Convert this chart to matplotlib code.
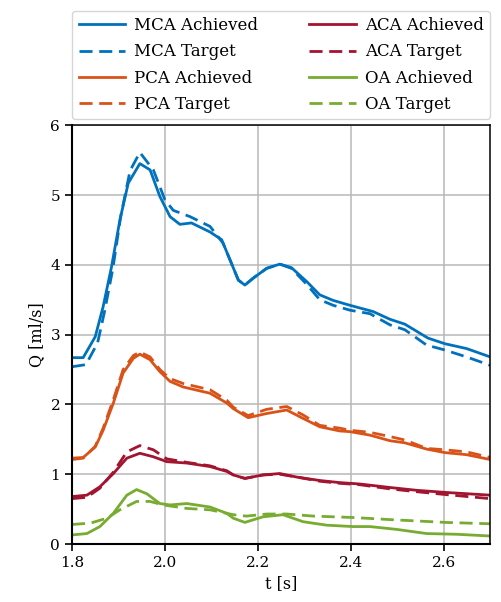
import matplotlib
matplotlib.use("Agg")
import matplotlib.pyplot as plt

plt.rcParams['font.family'] = ['DejaVu Serif']
plt.rcParams['font.size'] = 11

# values (t in s, Q in ml/s)
mca_t = [1.800, 1.824, 1.850, 1.867, 1.885, 1.903, 1.921, 1.946, 1.968, 1.989, 2.011, 2.032,
         2.057, 2.097, 2.122, 2.140, 2.158, 2.172, 2.190, 2.219, 2.247, 2.272, 2.305, 2.333,
         2.362, 2.398, 2.448, 2.484, 2.516, 2.566, 2.602, 2.649, 2.700]
mca_ach = [2.67, 2.67, 2.97, 3.40, 3.97, 4.64, 5.17, 5.45, 5.36, 4.98, 4.69, 4.58,
           4.60, 4.47, 4.36, 4.07, 3.78, 3.71, 3.81, 3.95, 4.01, 3.96, 3.76, 3.57,
           3.49, 3.42, 3.33, 3.22, 3.15, 2.95, 2.87, 2.80, 2.68]

mcat_t = [1.800, 1.830, 1.855, 1.870, 1.888, 1.905, 1.925, 1.946, 1.975, 2.000, 2.018, 2.054,
          2.097, 2.125, 2.140, 2.158, 2.172, 2.190, 2.219, 2.247, 2.272, 2.305, 2.333,
          2.362, 2.398, 2.441, 2.484, 2.516, 2.563, 2.602, 2.649, 2.700]
mca_tgt = [2.54, 2.57, 2.88, 3.33, 3.95, 4.70, 5.35, 5.61, 5.36, 4.93, 4.78, 4.69,
           4.55, 4.31, 4.07, 3.78, 3.71, 3.81, 3.95, 4.01, 3.95, 3.72, 3.50,
           3.42, 3.35, 3.30, 3.14, 3.07, 2.85, 2.78, 2.68, 2.56]

pca_t = [1.800, 1.824, 1.850, 1.867, 1.889, 1.910, 1.932, 1.946, 1.968, 1.989, 2.011, 2.039,
         2.097, 2.133, 2.147, 2.179, 2.219, 2.262, 2.297, 2.333, 2.376, 2.398, 2.441,
         2.484, 2.516, 2.563, 2.602, 2.649, 2.700]
pca_ach = [1.23, 1.24, 1.39, 1.63, 2.02, 2.45, 2.66, 2.72, 2.64, 2.47, 2.33, 2.25,
           2.16, 2.02, 1.94, 1.81, 1.87, 1.92, 1.80, 1.68, 1.62, 1.61, 1.56,
           1.48, 1.45, 1.36, 1.31, 1.28, 1.21]
pca_tgt = [1.21, 1.23, 1.40, 1.66, 2.07, 2.50, 2.70, 2.75, 2.68, 2.50, 2.37, 2.30,
           2.21, 2.06, 1.96, 1.84, 1.93, 1.97, 1.85, 1.70, 1.66, 1.63, 1.60,
           1.54, 1.49, 1.37, 1.35, 1.32, 1.24]

aca_t = [1.800, 1.832, 1.860, 1.889, 1.918, 1.946, 1.975, 2.004, 2.047, 2.097, 2.133, 2.147,
         2.172, 2.211, 2.247, 2.283, 2.333, 2.376, 2.419, 2.484, 2.541, 2.602, 2.700]
aca_ach = [0.68, 0.70, 0.82, 1.01, 1.23, 1.30, 1.25, 1.18, 1.16, 1.11, 1.04, 0.99,
           0.94, 0.99, 1.01, 0.96, 0.91, 0.88, 0.86, 0.81, 0.77, 0.74, 0.70]
aca_tgt = [0.65, 0.67, 0.80, 1.03, 1.32, 1.41, 1.35, 1.22, 1.17, 1.12, 1.05, 0.99,
           0.94, 0.99, 1.00, 0.96, 0.90, 0.87, 0.85, 0.79, 0.75, 0.71, 0.65]

oa_t = [1.800, 1.832, 1.860, 1.889, 1.918, 1.939, 1.961, 1.989, 2.011, 2.047, 2.097, 2.133,
        2.147, 2.172, 2.211, 2.254, 2.297, 2.348, 2.405, 2.441, 2.498, 2.563, 2.627, 2.700]
oa_ach = [0.13, 0.15, 0.25, 0.44, 0.70, 0.78, 0.72, 0.58, 0.56, 0.58, 0.53, 0.44,
          0.37, 0.31, 0.39, 0.42, 0.32, 0.27, 0.25, 0.25, 0.21, 0.15, 0.14, 0.115]

oat_t = [1.800, 1.840, 1.875, 1.903, 1.939, 1.968, 1.996, 2.047, 2.097, 2.133, 2.147, 2.175,
         2.219, 2.262, 2.319, 2.405, 2.484, 2.602, 2.700]
oa_tgt = [0.28, 0.30, 0.37, 0.49, 0.61, 0.61, 0.56, 0.51, 0.49, 0.44, 0.42, 0.40,
          0.43, 0.43, 0.40, 0.38, 0.35, 0.31, 0.29]

blue = '#0072BD'
orange = '#D95319'
red = '#A2142F'
green = '#77AC30'

fig = plt.figure(figsize=(5.01, 6.02), dpi=100)
ax = fig.add_axes([0.1437, 0.0963, 0.835, 0.6957])

lw = 2.0
dsh = (4.7, 2.4)
ax.plot(mca_t, mca_ach, color=blue, lw=lw, label='MCA Achieved')
ax.plot(mcat_t, mca_tgt, color=blue, lw=lw, dashes=dsh, label='MCA Target')
ax.plot(pca_t, pca_ach, color=orange, lw=lw, label='PCA Achieved')
ax.plot(pca_t, pca_tgt, color=orange, lw=lw, dashes=dsh, label='PCA Target')
ax.plot(aca_t, aca_ach, color=red, lw=lw, label='ACA Achieved')
ax.plot(aca_t, aca_tgt, color=red, lw=lw, dashes=dsh, label='ACA Target')
ax.plot(oa_t, oa_ach, color=green, lw=lw, label='OA Achieved')
ax.plot(oat_t, oa_tgt, color=green, lw=lw, dashes=dsh, label='OA Target')

ax.set_xlim(1.8, 2.7)
ax.set_ylim(0, 6)
ax.set_xticks([1.8, 2.0, 2.2, 2.4, 2.6])
ax.set_yticks([0, 1, 2, 3, 4, 5, 6])
ax.grid(True, color='#b8b8b8', lw=1.1)
ax.set_axisbelow(True)
for s in ax.spines.values():
    s.set_linewidth(1.1)
ax.spines['left'].set_linewidth(1.5)
ax.spines['bottom'].set_linewidth(1.5)
ax.tick_params(direction='out', length=5, width=1.2)
ax.set_xlabel('t [s]', fontsize=11.5)
ax.set_ylabel('Q [ml/s]', fontsize=11.5)

ax.legend(loc='lower left', bbox_to_anchor=(0, 1.014, 1, 0.2), mode='expand',
          ncol=2, handlelength=2.8, handletextpad=0.55, borderaxespad=0,
          borderpad=0.4, frameon=True, edgecolor='#cccccc', fancybox=True,
          labelspacing=0.55, fontsize=12)

fig.savefig('out.png', dpi=100)
